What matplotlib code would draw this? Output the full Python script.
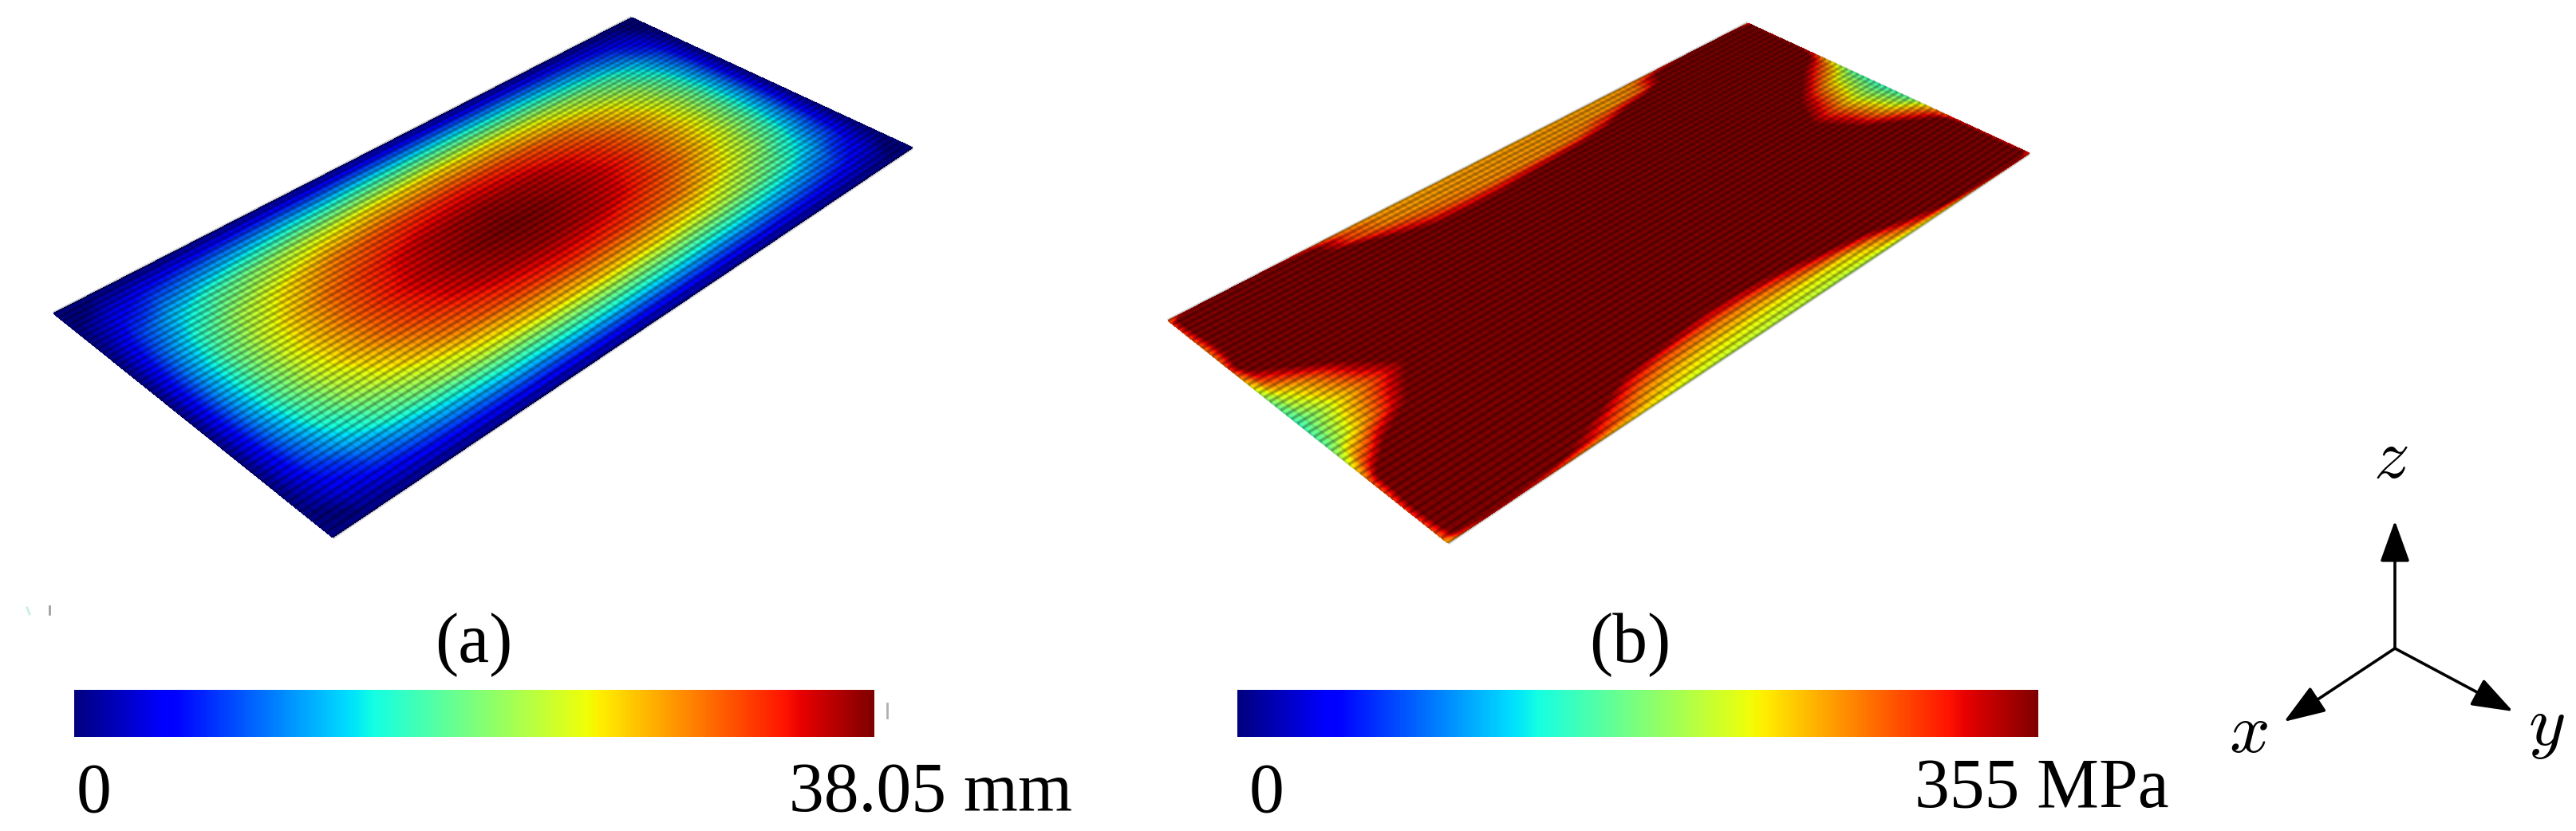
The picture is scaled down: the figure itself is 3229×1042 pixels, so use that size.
import numpy as np
import matplotlib
matplotlib.use("Agg")
import matplotlib.pyplot as plt
from matplotlib.collections import LineCollection
from matplotlib.cm import ScalarMappable
from matplotlib.colors import Normalize

plt.rcParams['font.family'] = ['Liberation Serif', 'DejaVu Serif']

W, H = 3230, 1042
FS = 63

# plate outlines in picture pixels: left, top, bottom, right corner
corners_a = [(67, 393), (792, 22), (417, 674), (1144, 185)]
corners_b = [(1464, 402), (2191, 29), (1815, 681), (2544, 192)]

# deflection / 38.05 mm
u_a = [0, .05, .1, .15, .2, .25, .3, .35, .4, .45, .5, .55, .6, .65, .7, .75, .8, .85, .9, .95, 1]
v_a = [0, .1, .2, .3, .4, .5, .6, .7, .8, .9, 1]
deflection = [
    [0, 0, 0, 0, 0, 0, 0, 0, 0, 0, 0, 0, 0, 0, 0, 0, 0, 0, 0, 0, 0],
    [0, .10, .17, .22, .26, .29, .32, .33, .35, .36, .36, .36, .35, .33, .32, .29, .26, .22, .17, .10, 0],
    [0, .18, .32, .42, .49, .55, .60, .63, .66, .67, .68, .67, .66, .63, .60, .55, .49, .42, .32, .18, 0],
    [0, .23, .41, .54, .63, .70, .77, .81, .84, .86, .87, .86, .84, .81, .77, .70, .63, .54, .41, .23, 0],
    [0, .26, .46, .60, .70, .79, .85, .90, .94, .96, .97, .96, .94, .90, .85, .79, .70, .60, .46, .26, 0],
    [0, .27, .47, .62, .72, .81, .88, .93, .965, .99, 1, .99, .965, .93, .88, .81, .72, .62, .47, .27, 0],
    [0, .26, .46, .60, .70, .79, .85, .90, .94, .96, .97, .96, .94, .90, .85, .79, .70, .60, .46, .26, 0],
    [0, .23, .41, .54, .63, .70, .77, .81, .84, .86, .87, .86, .84, .81, .77, .70, .63, .54, .41, .23, 0],
    [0, .18, .32, .42, .49, .55, .60, .63, .66, .67, .68, .67, .66, .63, .60, .55, .49, .42, .32, .18, 0],
    [0, .10, .17, .22, .26, .29, .32, .33, .35, .36, .36, .36, .35, .33, .32, .29, .26, .22, .17, .10, 0],
    [0, 0, 0, 0, 0, 0, 0, 0, 0, 0, 0, 0, 0, 0, 0, 0, 0, 0, 0, 0, 0],
]

# stress / 355 MPa; anything above 1 is the saturated plateau
u_b = [0, .015, .05, .1, .15, .2, .25, .3, .35, .4, .45, .5, .55, .6, .65, .7, .75, .8, .85, .9, .95, .985, 1]
v_b = [0, .015, .05, .1, .15, .2, .25, .3, .4, .5, .6, .7, .75, .8, .85, .9, .95, .985, 1]
stress = [
    [.80, .88, .92, .92, .90, .84, .74, .72, .72, .72, .72, .72, .72, .72, .72, .72, .74, .84, .90, .92, .90, .86, .80],
    [.85, 1.1, 1.2, 1.2, 1.15, 1.0, .82, .75, .74, .74, .74, .74, .74, .74, .74, .74, .76, 1.0, 1.15, 1.2, 1.2, 1.15, 1.0],
    [.85, 1.1, 1.2, 1.2, 1.2, 1.05, .84, .76, .74, .74, .74, .74, .74, .74, .74, .74, .80, 1.05, 1.2, 1.2, 1.2, 1.15, .95],
    [.82, 1.05, 1.2, 1.2, 1.2, 1.2, 1.15, .92, .82, .78, .76, .76, .76, .78, .88, 1.05, 1.2, 1.2, 1.2, 1.2, 1.2, 1.15, .92],
    [.78, 1.0, 1.2, 1.2, 1.2, 1.2, 1.2, 1.15, 1.0, .98, .98, 1.02, 1.06, 1.1, 1.15, 1.2, 1.2, 1.2, 1.2, 1.2, 1.2, 1.15, .95],
    [.78, 1.0, 1.2, 1.2, 1.2, 1.2, 1.2, 1.2, 1.2, 1.08, 1.08, 1.12, 1.2, 1.2, 1.2, 1.2, 1.2, 1.2, 1.2, 1.2, 1.2, 1.15, .95],
    [.85, 1.1, 1.2, 1.2, 1.2, 1.2, 1.2, 1.2, 1.2, 1.2, 1.2, 1.2, 1.2, 1.2, 1.2, 1.2, 1.2, 1.2, 1.2, 1.2, 1.2, 1.05, .90],
    [.72, .92, 1.1, 1.2, 1.2, 1.2, 1.2, 1.2, 1.2, 1.2, 1.2, 1.2, 1.2, 1.2, 1.2, 1.2, 1.2, 1.2, 1.2, 1.2, 1.0, .85, .72],
    [.50, .62, .76, 1.0, 1.12, 1.2, 1.2, 1.2, 1.2, 1.2, 1.2, 1.2, 1.2, 1.2, 1.2, 1.2, 1.2, 1.2, 1.12, .94, .70, .54, .46],
    [.42, .50, .64, .82, 1.0, 1.2, 1.2, 1.2, 1.2, 1.2, 1.2, 1.2, 1.2, 1.2, 1.2, 1.2, 1.2, 1.2, 1.0, .82, .60, .47, .42],
    [.46, .55, .72, .95, 1.15, 1.2, 1.2, 1.2, 1.2, 1.2, 1.2, 1.2, 1.2, 1.2, 1.2, 1.2, 1.2, 1.2, 1.2, .96, .72, .54, .46],
    [.66, .85, 1.1, 1.2, 1.2, 1.2, 1.2, 1.2, 1.2, 1.2, 1.2, 1.2, 1.2, 1.2, 1.2, 1.2, 1.2, 1.2, 1.2, 1.2, 1.08, .90, .78],
    [.80, 1.05, 1.2, 1.2, 1.2, 1.2, 1.2, 1.2, 1.2, 1.2, 1.2, 1.2, 1.2, 1.2, 1.2, 1.2, 1.2, 1.2, 1.2, 1.2, 1.2, 1.1, .88],
    [.82, 1.05, 1.2, 1.2, 1.2, 1.2, 1.2, 1.2, 1.2, 1.2, 1.2, 1.2, 1.2, 1.2, 1.2, 1.2, 1.2, 1.2, 1.2, 1.2, 1.2, 1.15, .90],
    [.85, 1.1, 1.2, 1.2, 1.2, 1.2, 1.2, 1.2, 1.15, 1.06, 1.0, 1.02, 1.08, 1.15, 1.2, 1.2, 1.2, 1.2, 1.2, 1.2, 1.2, 1.15, .90],
    [.85, 1.1, 1.2, 1.2, 1.2, 1.2, 1.1, .92, .84, .80, .78, .78, .82, .90, 1.0, 1.12, 1.2, 1.2, 1.2, 1.2, 1.2, 1.15, .90],
    [.82, 1.05, 1.2, 1.2, 1.15, 1.02, .88, .76, .70, .67, .66, .65, .65, .65, .67, .78, .96, 1.12, 1.2, 1.2, 1.2, 1.12, .90],
    [.78, 1.0, 1.15, 1.12, 1.02, .90, .78, .68, .64, .62, .61, .60, .60, .60, .62, .66, .76, .90, 1.05, 1.15, 1.15, 1.1, .95],
    [.70, .80, .88, .86, .80, .74, .68, .64, .60, .58, .58, .58, .58, .56, .56, .58, .60, .64, .70, .78, .85, .88, .85],
]

colorbars = [
    dict(x0=93, x1=1096, lo='0', hi='38.05 mm', lo_x=96, hi_x=1344, hi_y=1017, label='(a)', label_x=594),
    dict(x0=1551, x1=2555, lo='0', hi='355 MPa', lo_x=1566, hi_x=2719, hi_y=1012, label='(b)', label_x=2043),
]

# triad: origin and tips in picture pixels
origin = (3002, 813)
tips = {'z': (3002, 653), 'x': (2863, 905), 'y': (3150, 892)}
tip_labels = {'z': (2997, 577), 'x': (2818, 922), 'y': (3192, 913)}

# stray scan marks next to the colorbars
specks = [((1112, 1112), (882, 900), '#b0b0b0'), ((62, 62), (760, 770), '#a0a0a0'), ((34, 37), (762, 770), '#c8efe4')]


def homography(corners):
    # unit square -> quad, the plates are drawn in perspective
    src = [(0, 0), (1, 0), (0, 1), (1, 1)]
    a, b = [], []
    for (u, v), (x, y) in zip(src, corners):
        a.append([u, v, 1, 0, 0, 0, -u * x, -v * x])
        a.append([0, 0, 0, u, v, 1, -u * y, -v * y])
        b += [x, y]
    h = np.linalg.solve(np.array(a, float), np.array(b, float))
    return np.append(h, 1).reshape(3, 3)


def project(h, u, v):
    d = h[2, 0] * u + h[2, 1] * v + h[2, 2]
    return (h[0, 0] * u + h[0, 1] * v + h[0, 2]) / d, (h[1, 0] * u + h[1, 1] * v + h[1, 2]) / d


def draw_plate(ax, corners, us, vs, values):
    h = homography(corners)
    uu, vv = np.meshgrid(us, vs)
    xx, yy = project(h, uu, vv)
    ax.contourf(xx, yy, np.array(values), levels=np.linspace(0, 1, 129), cmap='jet',
                vmin=0, vmax=1, extend='max', antialiased=False)
    # element mesh, 100 x 50 cells, soft as in the blurred original
    seg_v = [np.column_stack(project(h, np.array([0., 1.]), np.array([t, t]))) for t in np.linspace(0, 1, 51)]
    seg_u = [np.column_stack(project(h, np.array([t, t]), np.array([0., 1.]))) for t in np.linspace(0, 1, 101)]
    ax.add_collection(LineCollection(seg_v, colors='k', linewidths=3.4, alpha=.17))
    ax.add_collection(LineCollection(seg_v, colors='k', linewidths=1.7, alpha=.17))
    ax.add_collection(LineCollection(seg_u, colors='k', linewidths=2.0, alpha=.10))


fig = plt.figure(figsize=(W / 100, H / 100), dpi=100)
ax = fig.add_axes([0, 0, 1, 1])
ax.set_xlim(0, W)
ax.set_ylim(H, 0)
ax.axis('off')

draw_plate(ax, corners_a, u_a, v_a, deflection)
draw_plate(ax, corners_b, u_b, v_b, stress)

for c in colorbars:
    cax = fig.add_axes([c['x0'] / W, 1 - 924 / H, (c['x1'] - c['x0']) / W, 59 / H])
    cb = fig.colorbar(ScalarMappable(Normalize(0, 1), 'jet'), cax=cax, orientation='horizontal')
    cb.set_ticks([])
    cb.outline.set_visible(False)
    ax.text(c['lo_x'], 1018, c['lo'], fontsize=FS, ha='left', va='baseline')
    ax.text(c['hi_x'], c['hi_y'], c['hi'], fontsize=FS, ha='right', va='baseline')
    ax.text(c['label_x'], 830, c['label'], fontsize=FS, ha='center', va='baseline')

for name, tip in tips.items():
    ax.annotate('', xy=tip, xytext=origin,
                arrowprops=dict(arrowstyle='-|>,head_length=32,head_width=11.5', mutation_scale=1,
                                lw=2.6, color='k', shrinkA=0, shrinkB=0))
    ax.text(*tip_labels[name], '$' + name + '$', fontsize=64, ha='center', va='center', math_fontfamily='cm')

for xs, ys, col in specks:
    ax.plot(xs, ys, color=col, lw=2)

fig.savefig('out.png', dpi=100, facecolor='white')
